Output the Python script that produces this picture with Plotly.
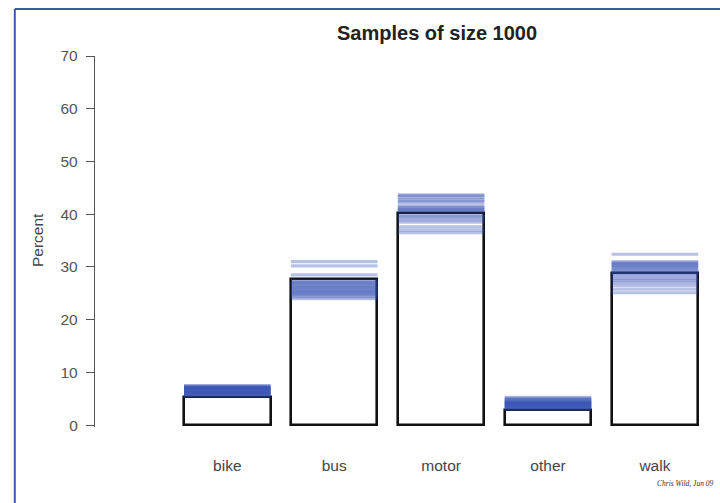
import plotly.graph_objects as go

# Population percentages for each travel mode
modes = ["bike", "bus", "motor", "other", "walk"]
population_pct = [5.3, 27.8, 40.3, 2.9, 28.8]

# Percentages seen in 20 repeated samples of size 1000 (one entry per sample)
sample_bike = [5.5, 5.6, 5.8, 5.9, 6.0, 6.1, 6.2, 6.3, 6.4, 6.5,
               6.6, 6.7, 6.8, 6.9, 7.0, 7.1, 7.2, 7.3, 7.4, 7.5]
sample_bus = [31.0, 30.2, 28.5, 27.4, 27.2, 27.0, 26.8, 26.6, 26.4, 26.2,
              26.0, 25.8, 25.6, 25.4, 25.2, 25.0, 24.8, 24.6, 24.3, 24.0]
sample_motor = [43.7, 43.5, 43.2, 42.8, 42.5, 42.2, 41.6, 41.3, 41.1, 40.9,
                40.7, 40.5, 39.9, 39.6, 39.3, 38.9, 38.5, 37.6, 37.0, 36.5]
sample_other = [3.0, 3.1, 3.3, 3.4, 3.5, 3.6, 3.7, 3.8, 3.9, 4.0,
                4.1, 4.2, 4.3, 4.4, 4.5, 4.6, 4.8, 4.9, 5.1, 5.3]
sample_walk = [32.4, 31.0, 30.8, 30.6, 30.4, 30.2, 30.0, 29.8, 29.5, 29.3,
               29.0, 28.8, 28.5, 28.1, 27.7, 27.4, 27.0, 26.5, 25.8, 25.1]

y_ticks = [0, 10, 20, 30, 40, 50, 60, 70]

samples_by_mode = [sample_bike, sample_bus, sample_motor, sample_other, sample_walk]
positions = list(range(1, len(modes) + 1))
bar_width = 0.81
half = bar_width / 2

AXIS_FONT = "Liberation Sans, Arial, sans-serif"

fig = go.Figure()

# Population bars: white boxes with a black outline
fig.add_trace(go.Bar(
    x=positions,
    y=population_pct,
    width=bar_width,
    marker=dict(color="white", line=dict(color="#111111", width=2.6)),
    hoverinfo="skip",
    showlegend=False,
))

# One translucent trace per sample, a short horizontal stroke across each bar
n_samples = len(sample_bike)
for k in range(n_samples):
    xs, ys = [], []
    for pos, vals in zip(positions, samples_by_mode):
        xs += [pos - half, pos + half, None]
        ys += [vals[k], vals[k], None]
    fig.add_trace(go.Scatter(
        x=xs, y=ys, mode="lines",
        line=dict(color="rgba(45,72,175,0.34)", width=3.1),
        hoverinfo="skip", showlegend=False,
    ))

L, R, T, B = 95, 0, 56, 76
W, H = 720 - L - R, 503 - T - B

def px_x(px):
    return (px - L) / W

def px_y(py):
    return (T + H - py) / H

fig.update_layout(
    width=720, height=503,
    margin=dict(l=L, r=R, t=T, b=B, autoexpand=False),
    paper_bgcolor="white", plot_bgcolor="white",
    bargap=0,
    xaxis=dict(
        range=[-0.2376, 5.609],
        tickvals=positions, ticktext=modes,
        showline=False, showgrid=False, zeroline=False, ticks="",
        tickfont=dict(family=AXIS_FONT, size=15.5, color="#454545"),
        ticklabelstandoff=27,
        fixedrange=True,
    ),
    yaxis=dict(
        range=[-0.35, 70],
        tickvals=y_ticks,
        showline=True, linecolor="#555555", linewidth=1.3,
        ticks="outside", ticklen=8, tickcolor="#555555", tickwidth=1.3,
        showgrid=False, zeroline=False,
        tickfont=dict(family=AXIS_FONT, size=15.5, color="#555555"),
        ticklabelstandoff=5,
        fixedrange=True,
    ),
    annotations=[
        dict(text="<b>Samples of size 1000</b>", xref="paper", yref="paper",
             x=px_x(437), y=px_y(33), xanchor="center", yanchor="middle",
             showarrow=False,
             font=dict(family=AXIS_FONT, size=20, color="#222222")),
        dict(text="Percent", xref="paper", yref="paper",
             x=px_x(37), y=px_y(240), xanchor="center", yanchor="middle",
             textangle=-90, showarrow=False,
             font=dict(family=AXIS_FONT, size=15.5, color="#454545")),
        dict(text="Chris Wild, Jun 09", xref="paper", yref="paper",
             x=px_x(655), y=px_y(483), xanchor="left", yanchor="middle",
             showarrow=False,
             font=dict(family="Liberation Serif, serif", size=7.5,
                       color="#333333", style="italic")),
    ],
    shapes=[
        # frame: left and top edges
        dict(type="line", xref="paper", yref="paper",
             x0=px_x(14.8), x1=px_x(14.8), y0=px_y(9), y1=px_y(520),
             line=dict(color="#3a5ca8", width=2)),
        dict(type="line", xref="paper", yref="paper",
             x0=px_x(14.8), x1=px_x(740), y0=px_y(9), y1=px_y(9),
             line=dict(color="#3a5ca8", width=2)),
    ],
)

fig.write_html("out.html")
